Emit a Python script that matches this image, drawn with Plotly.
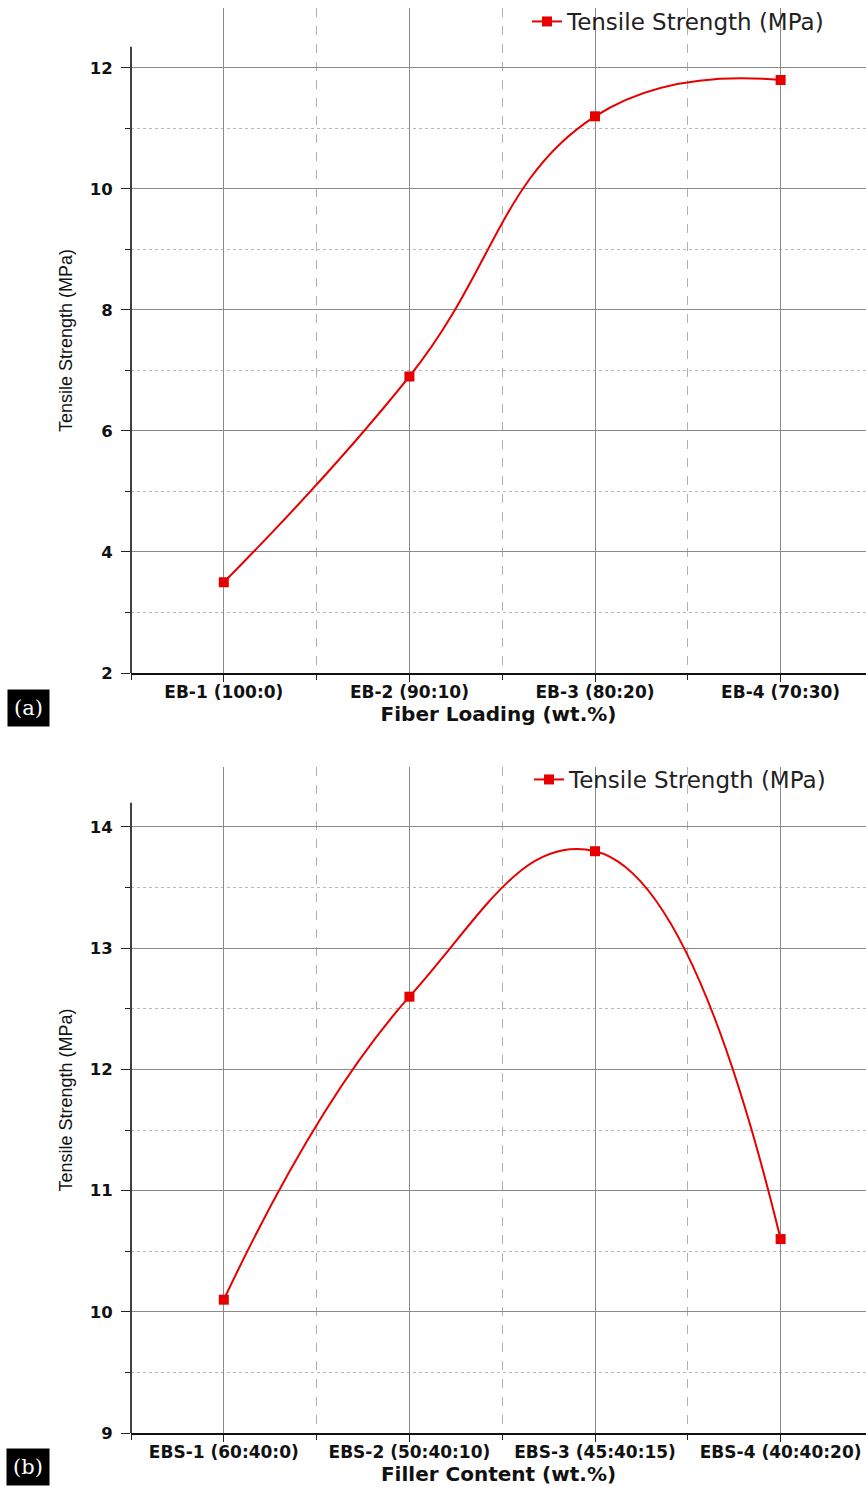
import plotly.graph_objects as go

# ---- data ----
cats_a = ["EB-1 (100:0)", "EB-2 (90:10)", "EB-3 (80:20)", "EB-4 (70:30)"]
vals_a = [3.5, 6.9, 11.2, 11.8]
cats_b = ["EBS-1 (60:40:0)", "EBS-2 (50:40:10)", "EBS-3 (45:40:15)", "EBS-4 (40:40:20)"]
vals_b = [10.1, 12.6, 13.8, 10.6]
series_name = "Tensile Strength (MPa)"
xtitle_a = "Fiber Loading (wt.%)"
xtitle_b = "Filler Content (wt.%)"
ytitle = "Tensile Strength (MPa)"

W, H = 866, 1487
RED = "#e60000"

fig = go.Figure()
fig.add_trace(go.Scatter(
    x=list(range(len(cats_a))), y=vals_a, mode="lines+markers", name=series_name,
    line=dict(color=RED, width=2, shape="spline", smoothing=1.3),
    marker=dict(symbol="square", size=10, color=RED),
    xaxis="x", yaxis="y", legend="legend"))
fig.add_trace(go.Scatter(
    x=list(range(len(cats_b))), y=vals_b, mode="lines+markers", name=series_name,
    line=dict(color=RED, width=2, shape="spline", smoothing=1.3),
    marker=dict(symbol="square", size=10, color=RED),
    xaxis="x2", yaxis="y2", legend="legend2"))

xdom = [131 / W, 1.0]
ydom_a = [1 - 673 / H, 1 - 8 / H]
ydom_b = [1 - 1433 / H, 1 - 767 / H]

xtickfont = dict(family="DejaVu Sans", size=17, color="#111", weight="bold")
ytickfont = dict(family="DejaVu Sans", size=16.5, color="#111", weight="bold")
xtitlefont = dict(family="DejaVu Sans", size=20, color="#111", weight="bold")
ytitlefont = dict(family="Liberation Sans", size=18, color="#111")
legfont = dict(family="DejaVu Sans", size=23, color="#222")


def xaxis_cfg(cats, title, anchor):
    return dict(
        domain=xdom, anchor=anchor, range=[-0.5, 3.46],
        tickmode="array", tickvals=list(range(len(cats))), ticktext=cats,
        ticks="outside", ticklen=7, tickwidth=1.2, tickcolor="#222",
        tickfont=xtickfont, showline=True, linecolor="#111", linewidth=1.6,
        showgrid=True, gridcolor="#8a8a8a", gridwidth=1.2, zeroline=False,
        ticklabelstandoff=-4,
        minor=dict(tick0=0.5, dtick=1, ticks="outside", ticklen=5, tickcolor="#222",
                   showgrid=True, gridcolor="#b0b0b0", griddash="dash", gridwidth=1),
        title=dict(text=title, font=xtitlefont, standoff=2), automargin=False,
    )


def yaxis_cfg(rng, dtick, mtick0, mdtick, anchor, dom):
    return dict(
        domain=dom, anchor=anchor, range=rng, dtick=dtick, tick0=0,
        ticks="outside", ticklen=9, tickwidth=1.2, tickcolor="#222",
        tickfont=ytickfont, showline=False, ticklabelstandoff=5,
        showgrid=True, gridcolor="#8a8a8a", gridwidth=1.2, zeroline=False,
        minor=dict(tick0=mtick0, dtick=mdtick, ticks="outside", ticklen=5, tickcolor="#222",
                   showgrid=True, gridcolor="#b8b8b8", griddash="dot", gridwidth=1),
        title=dict(text=ytitle, font=ytitlefont, standoff=12), automargin=False,
    )


fig.update_layout(
    width=W, height=H, margin=dict(l=0, r=0, t=0, b=0),
    paper_bgcolor="white", plot_bgcolor="white",
    xaxis=xaxis_cfg(cats_a, xtitle_a, "y"),
    yaxis=yaxis_cfg([2, 12.99], 2, 1, 1, "x", ydom_a),
    xaxis2=xaxis_cfg(cats_b, xtitle_b, "y2"),
    yaxis2=yaxis_cfg([9, 14.495], 1, 9.5, 0.5, "x2", ydom_b),
    legend=dict(x=527 / W, y=1.0, xanchor="left", yanchor="top",
                bgcolor="rgba(0,0,0,0)", font=legfont),
    legend2=dict(x=529 / W, y=1 - 758 / H, xanchor="left", yanchor="top",
                 bgcolor="rgba(0,0,0,0)", font=legfont),
    showlegend=True,
)

# y axis lines (shorter than plot area, as in the original)
fig.add_shape(type="line", xref="x domain", yref="y", x0=0, x1=0, y0=2, y1=12.35,
              line=dict(color="#111", width=1.6))
fig.add_shape(type="line", xref="x2 domain", yref="y2", x0=0, x1=0, y0=9, y1=14.2,
              line=dict(color="#111", width=1.6))

# panel labels
for lab, yc in [("(a)", 708), ("(b)", 1467)]:
    fig.add_annotation(text=lab, xref="paper", yref="paper", x=28 / W, y=1 - yc / H,
                       xanchor="center", yanchor="middle", showarrow=False,
                       font=dict(family="DejaVu Serif", size=21, color="white"),
                       bgcolor="black", borderpad=6)

fig.write_html("out.html")
